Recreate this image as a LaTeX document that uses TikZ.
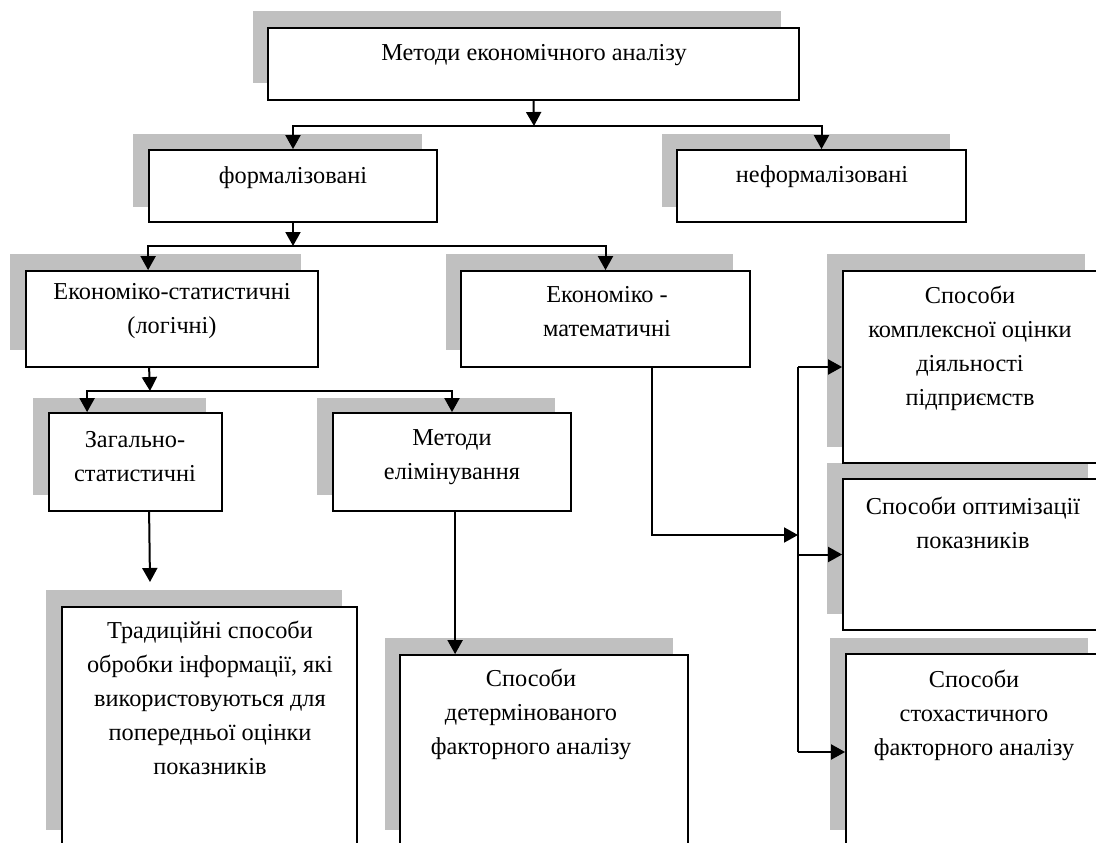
\documentclass[tikz,border=0pt]{standalone}
\usepackage{fontspec}
\setmainfont{Liberation Serif}
\usetikzlibrary{arrows.meta,fit}
\definecolor{shadowgray}{RGB}{192,192,192}
\tikzset{
  box/.style={draw=black, line width=1.8pt, fill=white, inner sep=0pt},
  shade/.style={fill=shadowgray},
  lbl/.style={font=\fontsize{24.3}{34}\selectfont, align=center, inner sep=0pt},
  conn/.style={line width=2pt, draw=black},
  arr/.style={conn, -{Triangle[length=14pt,width=15pt]}},
}
\begin{document}
\begin{tikzpicture}[x=1pt,y=-1pt]
\useasboundingbox (0,0) rectangle (1096,843);
\clip (0,0) rectangle (1096,843);
% shadows
\fill[shade] (253,11) rectangle (781,83);
\fill[shade] (133,134) rectangle (422,207);
\fill[shade] (662,134) rectangle (950,207);
\fill[shade] (10,254) rectangle (301,350);
\fill[shade] (446,254) rectangle (733,350);
\fill[shade] (33,398) rectangle (206,495);
\fill[shade] (317,398) rectangle (555,495);
\fill[shade] (827,254) rectangle (1085,447);
\fill[shade] (827,463) rectangle (1088,614);
\fill[shade] (46,590) rectangle (342,830);
\fill[shade] (385,638) rectangle (673,830);
\fill[shade] (830,638) rectangle (1088,830);
% boxes
\node[box, fit={(268,28) (799,100)}] (top) {};
\node[box, fit={(149,150) (437,222)}] (formal) {};
\node[box, fit={(677,150) (966,222)}] (informal) {};
\node[box, fit={(26,271) (318,367)}] (ekstat) {};
\node[box, fit={(461,271) (750,367)}] (ekmat) {};
\node[box, fit={(49,413) (222,511)}] (zag) {};
\node[box, fit={(333,413) (571,511)}] (elim) {};
\node[box, fit={(843,271) (1098,463)}] (komp) {};
\node[box, fit={(843,479) (1098,630)}] (optim) {};
\node[box, fit={(62,607) (357,870)}] (trad) {};
\node[box, fit={(400,655) (688,870)}] (det) {};
\node[box, fit={(846,654) (1098,850)}] (stoch) {};
% texts
\node[lbl] (tTop) at (534,55) {Методи економічного аналізу};
\node[lbl] (tFormal) at (293,178) {формалізовані};
\node[lbl] (tInformal) at (822,177) {неформалізовані};
\node[lbl] (tEkstat) at (172,311) {Економіко-статистичні\\(логічні)};
\node[lbl] (tEkmat) at (607,312) {Економіко -\\математичні};
\node[lbl] (tZag) at (135,457) {Загально-\\статистичні};
\node[lbl] (tElim) at (452,457) {Методи\\елімінування};
\node[lbl] (tKomp) at (970,348) {Способи\\комплексної оцінки\\діяльності\\підприємств};
\node[lbl] (tOptim) at (973,523) {Способи оптимізації\\показників};
\node[lbl] (tTrad) at (210,698) {Традиційні способи\\обробки інформації, які\\використовуються для\\попередньої оцінки\\показників};
\node[lbl] (tDet) at (531,714) {Способи\\детермінованого\\факторного аналізу};
\node[lbl] (tStoch) at (974,715) {Способи\\стохастичного\\факторного аналізу};
% connectors
\coordinate (j1) at (534,126);
\draw[arr] (top.south) -- (j1);
\draw[arr] (j1) -| (formal.north);
\draw[arr] (j1) -| (informal.north);
\coordinate (j2) at (293,246);
\draw[arr] (formal.south) -- (j2);
\draw[arr] (j2) -| ([xshift=123pt]ekstat.north west);
\draw[arr] (j2) -| (ekmat.north);
\coordinate (j3) at (150,391);
\draw[arr] ([xshift=124pt]ekstat.south west) -- (j3);
\draw[arr] (j3) -| ([xshift=39pt]zag.north west);
\draw[arr] (j3) -| (elim.north);
\coordinate (e1) at (150,582);
\draw[arr] ([xshift=101pt]zag.south west) -- (e1);
\draw[arr] ([xshift=123pt]elim.south west) -- ([xshift=56pt]det.north west);
\coordinate (b1) at (798,535);
\draw[arr] ([xshift=192pt]ekmat.south west) |- (b1);
\draw[conn] (b1 |- komp.west) -- (b1 |- stoch.west);
\draw[arr] (b1 |- komp.west) -- (komp.west);
\draw[arr] (b1 |- optim.west) -- (optim.west);
\draw[arr] (b1 |- stoch.west) -- (stoch.west);
\end{tikzpicture}
\end{document}
